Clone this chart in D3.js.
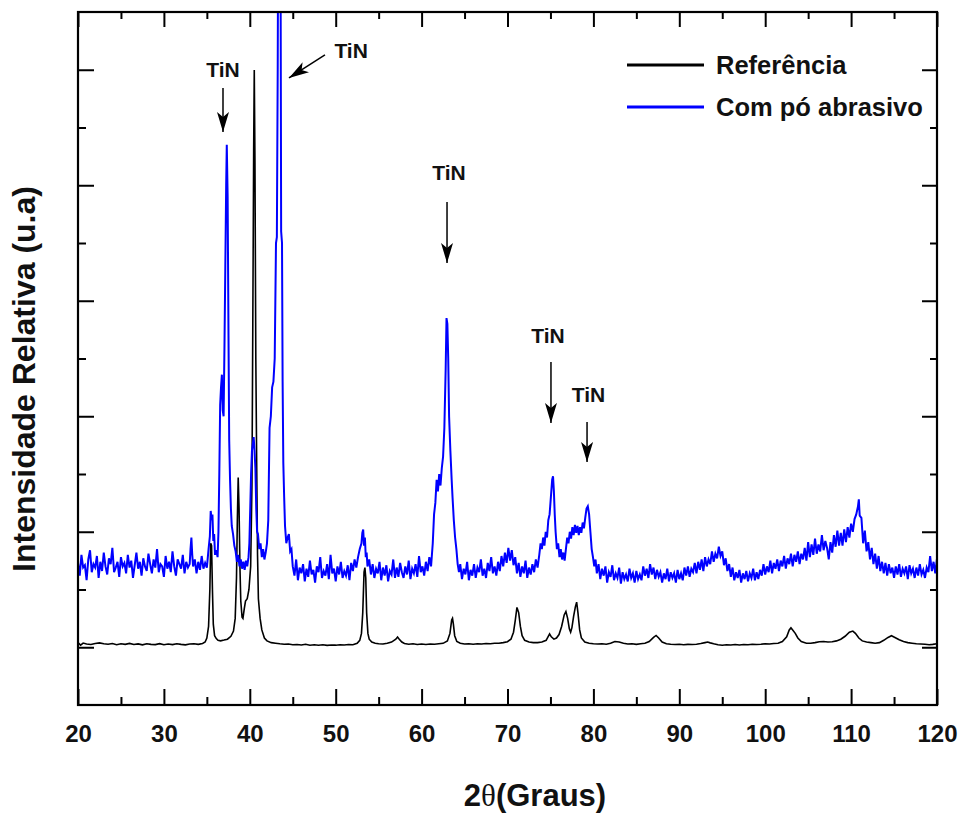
<!DOCTYPE html>
<html>
<head>
<meta charset="utf-8">
<script src="https://cdn.jsdelivr.net/npm/d3@7"></script>
<style>
body { margin: 0; background: #fff; }
text { font-family: "Liberation Sans", Arial, sans-serif; font-weight: bold; fill: #111; }
</style>
</head>
<body>
<svg id="chart" width="961" height="815"></svg>
<script>
// 2theta (graus) vs intensidade (u.a)
var refPoints = [
  [20.0,1040],[20.3,1018],[20.6,1036],[21.0,1028],[21.5,1024],[22.0,1032],[22.5,1038],[23.0,1030],[23.5,1026],
  [24.0,1032],[24.5,1022],[25.0,1030],[25.5,1025],[26.0,1033],[26.5,1024],[27.0,1029],[27.5,1021],[28.0,1030],
  [28.5,1025],[29.0,1023],[29.5,1031],[30.0,1022],[30.5,1028],[31.0,1023],[31.5,1030],[32.0,1025],[32.5,1021],
  [33.0,1028],[33.5,1030],[34.0,1025],[34.5,1033],[34.8,1045],[35.0,1080],[35.2,1180],[35.35,1500],[35.45,1900],
  [35.55,1880],[35.65,1500],[35.75,1200],[35.9,1100],[36.1,1075],[36.3,1060],[36.6,1055],[37.0,1062],[37.4,1070],
  [37.8,1095],[38.1,1140],[38.3,1250],[38.45,1600],[38.55,2100],[38.65,2470],[38.75,2200],[38.85,1700],[38.95,1400],
  [39.1,1260],[39.2,1250],[39.35,1330],[39.5,1400],[39.7,1420],[39.9,1500],[40.1,1700],[40.25,2400],[40.35,3800],
  [40.45,5300],[40.52,5998],[40.6,5200],[40.7,3500],[40.8,2600],[40.9,1800],[41.0,1420],[41.2,1250],[41.4,1150],
  [41.7,1080],[42.0,1055],[42.5,1040],[43.0,1035],[43.5,1030],[44.0,1026],[44.5,1028],[45.0,1022],[45.5,1024],
  [46.0,1020],[46.5,1026],[47.0,1018],[47.5,1022],[48.0,1018],[48.5,1022],[49.0,1016],[49.5,1020],[50.0,1018],
  [50.5,1022],[51.0,1020],[51.5,1024],[52.0,1022],[52.5,1035],[52.8,1060],[53.0,1120],[53.15,1300],[53.3,1650],
  [53.4,1690],[53.5,1600],[53.6,1300],[53.75,1120],[53.9,1070],[54.2,1045],[54.6,1035],[55.0,1030],[55.5,1028],
  [56.0,1035],[56.5,1045],[57.0,1070],[57.2,1088],[57.4,1070],[57.7,1045],[58.0,1032],[58.5,1026],[59.0,1030],
  [59.5,1024],[60.0,1028],[60.5,1024],[61.0,1028],[61.5,1026],[62.0,1030],[62.5,1034],[63.0,1055],[63.3,1120],
  [63.5,1235],[63.6,1250],[63.7,1200],[63.85,1100],[64.1,1050],[64.5,1035],[65.0,1028],[65.5,1030],[66.0,1026],
  [66.5,1030],[67.0,1028],[67.5,1032],[68.0,1030],[68.5,1035],[69.0,1034],[69.5,1040],[70.0,1048],[70.4,1070],
  [70.7,1130],[70.9,1230],[71.1,1345],[71.3,1300],[71.5,1180],[71.7,1100],[72.0,1060],[72.5,1045],[73.0,1040],
  [73.5,1040],[74.0,1045],[74.5,1060],[74.9,1115],[75.1,1090],[75.4,1070],[75.7,1080],[76.0,1110],[76.3,1180],
  [76.6,1280],[76.8,1310],[77.0,1250],[77.2,1160],[77.35,1130],[77.5,1170],[77.7,1270],[77.9,1350],[78.05,1390],
  [78.2,1300],[78.4,1150],[78.6,1080],[79.0,1045],[79.5,1035],[80.0,1030],[80.5,1028],[81.0,1030],[81.5,1026],
  [82.0,1035],[82.5,1050],[83.0,1045],[83.5,1035],[84.0,1028],[84.5,1030],[85.0,1025],[85.5,1030],[86.0,1035],
  [86.5,1050],[87.0,1085],[87.3,1102],[87.6,1080],[88.0,1045],[88.5,1030],[89.0,1026],[89.5,1024],[90.0,1026],
  [90.5,1022],[91.0,1025],[91.5,1024],[92.0,1026],[92.5,1032],[93.0,1040],[93.3,1045],[93.6,1038],[94.0,1030],
  [94.5,1022],[95.0,1018],[95.5,1022],[96.0,1020],[96.5,1024],[97.0,1020],[97.5,1024],[98.0,1022],[98.5,1026],
  [99.0,1024],[99.5,1026],[100.0,1030],[100.5,1028],[101.0,1032],[101.5,1035],[102.0,1050],[102.5,1090],
  [102.8,1150],[103.0,1168],[103.2,1150],[103.5,1120],[103.8,1080],[104.2,1050],[104.8,1035],[105.3,1035],
  [105.8,1040],[106.3,1048],[106.8,1050],[107.3,1045],[107.8,1048],[108.3,1055],[108.8,1070],[109.3,1095],
  [109.8,1130],[110.2,1140],[110.5,1120],[110.9,1080],[111.3,1055],[111.8,1045],[112.3,1040],[112.8,1035],
  [113.3,1040],[113.8,1060],[114.3,1085],[114.7,1100],[115.1,1085],[115.6,1065],[116.1,1050],[116.6,1040],
  [117.1,1035],[117.6,1030],[118.1,1028],[118.6,1026],[119.1,1022],[119.5,1025],[120.0,1030]
];

var abrasivePoints = [
  [20.0,1730],[20.2,1620],[20.4,1800],[20.6,1690],[20.8,1710],[21.0,1580],[21.2,1760],[21.4,1840],[21.6,1650],
  [21.8,1720],[22.0,1690],[22.2,1790],[22.4,1600],[22.6,1740],[22.8,1660],[23.0,1820],[23.2,1700],[23.4,1630],
  [23.6,1770],[23.8,1720],[24.0,1860],[24.2,1650],[24.4,1690],[24.6,1740],[24.8,1610],[25.0,1780],[25.2,1700],
  [25.4,1730],[25.6,1640],[25.8,1800],[26.0,1690],[26.2,1750],[26.4,1600],[26.6,1710],[26.8,1820],[27.0,1680],
  [27.2,1740],[27.4,1620],[27.6,1770],[27.8,1700],[28.0,1660],[28.2,1810],[28.4,1720],[28.6,1640],[28.8,1760],
  [29.0,1690],[29.2,1850],[29.4,1650],[29.6,1720],[29.8,1700],[30.0,1610],[30.2,1790],[30.4,1680],[30.6,1740],
  [30.8,1650],[31.0,1830],[31.2,1700],[31.4,1620],[31.6,1760],[31.8,1720],[32.0,1680],[32.2,1800],[32.4,1640],
  [32.6,1740],[32.8,1690],[33.0,1720],[33.1,1850],[33.2,1950],[33.3,1800],[33.4,1700],[33.6,1760],[33.8,1640],
  [34.0,1740],[34.2,1670],[34.4,1790],[34.6,1680],[34.8,1730],[35.0,1690],[35.2,1850],[35.35,1960],[35.45,2180],
  [35.55,2100],[35.65,2150],[35.75,1920],[35.85,1980],[35.95,1800],[36.1,1840],[36.25,1780],[36.35,2000],
  [36.45,2500],[36.55,3100],[36.65,3250],[36.75,3360],[36.85,3050],[36.95,3000],[37.05,3600],[37.15,4300],
  [37.25,5000],[37.32,5350],[37.42,4900],[37.52,3700],[37.6,2800],[37.7,2450],[37.8,2200],[37.9,2050],
  [38.05,1980],[38.2,1880],[38.35,1830],[38.5,1740],[38.65,1800],[38.8,1700],[38.95,1760],[39.1,1680],
  [39.25,1740],[39.4,1670],[39.55,1750],[39.7,1700],[39.85,1780],[39.95,1900],[40.05,2200],[40.15,2500],
  [40.25,2700],[40.35,2760],[40.45,2820],[40.55,2700],[40.65,2550],[40.75,2200],[40.85,2000],[40.95,1980],
  [41.1,1850],[41.25,1900],[41.4,1780],[41.55,1850],[41.7,1760],[41.85,1820],[42.0,1900],[42.15,2100],
  [42.3,2900],[42.45,3000],[42.6,3250],[42.75,3300],[42.9,3500],[43.05,4500],[43.15,4550],[43.25,6000],
  [43.35,8500],[43.45,9000],[43.55,8000],[43.65,4600],[43.75,4500],[43.82,3300],[43.9,2600],[44.0,2300],
  [44.1,2050],[44.25,1900],[44.4,1950],[44.55,1980],[44.7,1830],[44.85,1850],[45.0,1700],[45.2,1620],
  [45.4,1760],[45.6,1580],[45.8,1690],[46.0,1640],[46.2,1720],[46.4,1570],[46.6,1680],[46.8,1610],[47.0,1750],
  [47.2,1630],[47.4,1670],[47.6,1560],[47.8,1700],[48.0,1650],[48.2,1780],[48.4,1600],[48.6,1660],[48.8,1620],
  [49.0,1720],[49.2,1590],[49.4,1800],[49.6,1640],[49.8,1680],[50.0,1570],[50.2,1700],[50.4,1630],[50.6,1740],
  [50.8,1600],[51.0,1660],[51.2,1620],[51.4,1710],[51.6,1580],[51.8,1730],[52.0,1660],[52.2,1760],[52.4,1690],
  [52.6,1780],[52.8,1850],[53.0,1900],[53.1,1990],[53.2,2020],[53.3,1880],[53.4,1950],[53.5,1780],[53.6,1820],
  [53.7,1700],[53.9,1760],[54.1,1630],[54.3,1720],[54.5,1600],[54.7,1680],[54.9,1640],[55.1,1740],[55.3,1580],
  [55.5,1690],[55.7,1620],[55.9,1710],[56.1,1570],[56.3,1660],[56.5,1630],[56.7,1760],[56.9,1600],[57.1,1690],
  [57.3,1610],[57.5,1730],[57.7,1650],[57.9,1600],[58.1,1700],[58.3,1630],[58.5,1750],[58.7,1590],[58.9,1680],
  [59.1,1640],[59.3,1720],[59.5,1610],[59.7,1790],[59.9,1650],[60.1,1700],[60.3,1620],[60.5,1740],[60.7,1660],
  [60.9,1780],[61.1,1700],[61.3,1900],[61.45,2150],[61.6,2250],[61.75,2450],[61.9,2350],[62.05,2500],
  [62.2,2400],[62.35,2550],[62.5,2650],[62.65,2900],[62.8,3400],[62.9,3850],[63.0,3800],[63.1,3500],
  [63.2,3000],[63.35,2700],[63.5,2450],[63.6,2300],[63.75,2100],[63.9,1950],[64.05,1850],[64.2,1720],
  [64.35,1650],[64.5,1720],[64.7,1590],[64.9,1680],[65.1,1630],[65.3,1740],[65.5,1580],[65.7,1670],[65.9,1620],
  [66.1,1720],[66.3,1600],[66.5,1690],[66.7,1650],[66.9,1760],[67.1,1620],[67.3,1680],[67.5,1600],[67.7,1730],
  [67.9,1660],[68.1,1780],[68.3,1640],[68.5,1700],[68.7,1620],[68.9,1740],[69.1,1660],[69.3,1790],[69.5,1700],
  [69.7,1820],[69.9,1730],[70.1,1860],[70.3,1750],[70.5,1840],[70.7,1710],[70.9,1780],[71.1,1640],[71.3,1730],
  [71.5,1610],[71.7,1700],[71.9,1640],[72.1,1750],[72.3,1600],[72.5,1690],[72.7,1630],[72.9,1720],[73.1,1650],
  [73.3,1760],[73.5,1690],[73.7,1800],[73.85,1900],[74.0,1850],[74.15,1950],[74.3,1880],[74.45,2000],
  [74.6,1950],[74.75,2100],[74.9,2150],[75.05,2300],[75.2,2450],[75.3,2480],[75.4,2350],[75.5,2150],
  [75.6,2000],[75.75,1850],[75.9,1900],[76.05,1780],[76.2,1850],[76.35,1760],[76.5,1820],[76.65,1750],
  [76.8,1850],[76.95,1950],[77.1,1900],[77.25,2000],[77.4,1940],[77.55,2040],[77.7,1970],[77.85,2060],
  [78.0,1990],[78.15,2050],[78.3,1970],[78.45,2040],[78.6,1990],[78.75,2080],[78.9,2030],[79.05,2120],
  [79.2,2200],[79.35,2220],[79.5,2150],[79.65,2000],[79.8,1850],[79.95,1780],[80.1,1700],[80.25,1760],
  [80.4,1640],[80.6,1720],[80.8,1590],[81.0,1680],[81.2,1620],[81.4,1700],[81.6,1560],[81.8,1650],[82.0,1610],
  [82.2,1710],[82.4,1580],[82.6,1640],[82.8,1600],[83.0,1690],[83.2,1550],[83.4,1650],[83.6,1590],[83.8,1630],
  [84.0,1570],[84.2,1680],[84.4,1600],[84.6,1640],[84.8,1560],[85.0,1660],[85.2,1590],[85.4,1630],[85.6,1580],
  [85.8,1700],[86.0,1620],[86.2,1680],[86.4,1600],[86.6,1720],[86.8,1630],[87.0,1690],[87.2,1590],[87.4,1670],
  [87.6,1610],[87.8,1650],[88.0,1560],[88.2,1640],[88.4,1590],[88.6,1680],[88.8,1570],[89.0,1650],[89.2,1600],
  [89.4,1640],[89.6,1560],[89.8,1670],[90.0,1590],[90.2,1640],[90.4,1580],[90.6,1690],[90.8,1620],[91.0,1700],
  [91.2,1610],[91.4,1680],[91.6,1650],[91.8,1730],[92.0,1640],[92.2,1740],[92.4,1670],[92.6,1760],[92.8,1660],
  [93.0,1780],[93.2,1700],[93.4,1760],[93.6,1720],[93.8,1830],[94.0,1740],[94.2,1810],[94.4,1770],[94.6,1870],
  [94.8,1790],[95.0,1830],[95.2,1710],[95.4,1770],[95.6,1660],[95.8,1720],[96.0,1610],[96.2,1690],[96.4,1580],
  [96.6,1650],[96.8,1600],[97.0,1670],[97.2,1560],[97.4,1640],[97.6,1590],[97.8,1660],[98.0,1570],[98.2,1640],
  [98.4,1600],[98.6,1680],[98.8,1580],[99.0,1650],[99.2,1590],[99.4,1670],[99.6,1620],[99.8,1720],[100.0,1630],
  [100.2,1700],[100.4,1650],[100.6,1750],[100.8,1640],[101.0,1730],[101.2,1680],[101.4,1760],[101.6,1660],
  [101.8,1750],[102.0,1700],[102.2,1790],[102.4,1680],[102.6,1770],[102.8,1720],[103.0,1810],[103.2,1700],
  [103.4,1800],[103.6,1740],[103.8,1830],[104.0,1720],[104.2,1810],[104.4,1760],[104.6,1860],[104.8,1750],
  [105.0,1910],[105.2,1780],[105.4,1890],[105.6,1800],[105.8,1940],[106.0,1810],[106.2,1890],[106.4,1830],
  [106.6,1970],[106.8,1840],[107.0,1920],[107.2,1860],[107.4,1760],[107.6,1910],[107.8,1820],[108.0,1970],
  [108.2,1870],[108.4,2010],[108.6,1880],[108.8,1990],[109.0,1880],[109.2,2020],[109.4,1910],[109.6,2040],
  [109.8,1950],[110.0,2070],[110.2,2000],[110.4,2110],[110.6,2150],[110.8,2220],[110.9,2280],[111.0,2140],
  [111.2,2120],[111.4,1900],[111.6,2010],[111.8,1830],[112.0,1910],[112.2,1760],[112.4,1860],[112.6,1720],
  [112.8,1810],[113.0,1680],[113.2,1790],[113.4,1660],[113.6,1740],[113.8,1640],[114.0,1730],[114.2,1620],
  [114.4,1720],[114.6,1640],[114.8,1690],[115.0,1600],[115.2,1700],[115.4,1630],[115.6,1720],[115.8,1610],
  [116.0,1680],[116.2,1640],[116.4,1700],[116.6,1590],[116.8,1710],[117.0,1640],[117.2,1680],[117.4,1600],
  [117.6,1690],[117.8,1620],[118.0,1720],[118.2,1630],[118.4,1670],[118.6,1600],[118.8,1690],[119.0,1650],
  [119.2,1790],[119.4,1660],[119.6,1740],[119.8,1640],[120.0,1770]
];

var seriesNames = ["Referência", "Com pó abrasivo"];
var seriesColors = ["#000000", "#0000ff"];

var xMajorTicks = [20, 30, 40, 50, 60, 70, 80, 90, 100, 110, 120];
var xMinorTicks = [25, 35, 45, 55, 65, 75, 85, 95, 105, 115];
var yMajorTicks = [1000, 2000, 3000, 4000, 5000, 6000];
var yMinorTicks = [1500, 2500, 3500, 4500, 5500];

// TiN peak markers: label position and arrow (x in graus, y in u.a)
var tinMarks = [
  {tx: 36.88, ty: 5937, x1: 36.88, y1: 5842, x2: 36.88, y2: 5461},
  {tx: 51.8,  ty: 6102, x1: 48.75, y1: 6128, x2: 44.56, y2: 5929},
  {tx: 63.19, ty: 5046, x1: 62.96, y1: 4855, x2: 62.96, y2: 4327},
  {tx: 74.71, ty: 3634, x1: 75.06, y1: 3470, x2: 75.06, y2: 2942},
  {tx: 79.43, ty: 3123, x1: 79.26, y1: 2950, x2: 79.26, y2: 2604}
];

var margin = {top: 12, right: 24, bottom: 110, left: 78};
var width = 961 - margin.left - margin.right;
var height = 815 - margin.top - margin.bottom;

var svg = d3.select("#chart");
var g = svg.append("g").attr("transform", "translate(" + margin.left + "," + margin.top + ")");

var x = d3.scaleLinear().domain([20, 120]).range([0, width]);
var y = d3.scaleLinear().domain([500, 6500]).range([height, 0]);

svg.append("defs").append("clipPath").attr("id", "plot-clip")
    .append("rect").attr("width", width).attr("height", height);

svg.select("defs").append("marker")
    .attr("id", "arrow-head")
    .attr("markerUnits", "userSpaceOnUse")
    .attr("viewBox", "0 0 20 12")
    .attr("refX", 20).attr("refY", 6)
    .attr("markerWidth", 20).attr("markerHeight", 12)
    .attr("orient", "auto")
    .append("path").attr("d", "M0,0 L20,6 L0,12 L5,6 Z").attr("fill", "#000");

var line = d3.line()
    .x(function (d) { return x(d[0]); })
    .y(function (d) { return y(d[1]); });

var plot = g.append("g").attr("clip-path", "url(#plot-clip)");

plot.append("path")
    .datum(refPoints)
    .attr("d", line)
    .attr("fill", "none")
    .attr("stroke", seriesColors[0])
    .attr("stroke-width", 1.6);

plot.append("path")
    .datum(abrasivePoints)
    .attr("d", line)
    .attr("fill", "none")
    .attr("stroke", seriesColors[1])
    .attr("stroke-width", 2);

// axes, ticks pointing inward
function styleAxis(sel) {
    sel.select(".domain").remove();
    sel.selectAll(".tick line").attr("stroke", "#000").attr("stroke-width", 2);
}

g.append("g").attr("transform", "translate(0," + height + ")")
    .call(d3.axisBottom(x).tickValues(xMajorTicks).tickSizeInner(-16).tickSizeOuter(0).tickPadding(20))
    .call(styleAxis)
    .selectAll("text")
    .attr("font-size", "24px")
    .attr("fill", "#111")
    .style("font-family", "'Liberation Sans', Arial, sans-serif")
    .style("font-weight", "bold");

g.append("g").attr("transform", "translate(0," + height + ")")
    .call(d3.axisBottom(x).tickValues(xMinorTicks).tickSizeInner(-8).tickSizeOuter(0).tickFormat(""))
    .call(styleAxis);

g.append("g")
    .call(d3.axisTop(x).tickValues(xMajorTicks).tickSizeInner(-15).tickSizeOuter(0).tickFormat(""))
    .call(styleAxis);
g.append("g")
    .call(d3.axisTop(x).tickValues(xMinorTicks).tickSizeInner(-7).tickSizeOuter(0).tickFormat(""))
    .call(styleAxis);

g.append("g")
    .call(d3.axisLeft(y).tickValues(yMajorTicks).tickSizeInner(-16).tickSizeOuter(0).tickFormat(""))
    .call(styleAxis);
g.append("g")
    .call(d3.axisLeft(y).tickValues(yMinorTicks).tickSizeInner(-8).tickSizeOuter(0).tickFormat(""))
    .call(styleAxis);

g.append("g").attr("transform", "translate(" + width + ",0)")
    .call(d3.axisRight(y).tickValues(yMajorTicks).tickSizeInner(-15).tickSizeOuter(0).tickFormat(""))
    .call(styleAxis);
g.append("g").attr("transform", "translate(" + width + ",0)")
    .call(d3.axisRight(y).tickValues(yMinorTicks).tickSizeInner(-7).tickSizeOuter(0).tickFormat(""))
    .call(styleAxis);

g.append("rect")
    .attr("width", width).attr("height", height)
    .attr("fill", "none").attr("stroke", "#000").attr("stroke-width", 2.2);

// TiN annotations
var marks = g.append("g");
marks.selectAll(".tin-label").data(tinMarks).enter().append("text")
    .attr("class", "tin-label")
    .attr("x", function (d) { return x(d.tx); })
    .attr("y", function (d) { return y(d.ty); })
    .attr("text-anchor", "middle")
    .attr("font-size", "21px")
    .text("TiN");

marks.selectAll(".tin-arrow").data(tinMarks).enter().append("line")
    .attr("class", "tin-arrow")
    .attr("x1", function (d) { return x(d.x1); })
    .attr("y1", function (d) { return y(d.y1); })
    .attr("x2", function (d) { return x(d.x2); })
    .attr("y2", function (d) { return y(d.y2); })
    .attr("stroke", "#000")
    .attr("stroke-width", 1.5)
    .attr("marker-end", "url(#arrow-head)");

// legend
var legend = svg.append("g").attr("transform", "translate(627,65)");
var legendRows = legend.selectAll("g").data(seriesNames).enter().append("g")
    .attr("transform", function (d, i) { return "translate(0," + (i * 42) + ")"; });
legendRows.append("line")
    .attr("x1", 0).attr("x2", 77).attr("y1", 0).attr("y2", 0)
    .attr("stroke", function (d, i) { return seriesColors[i]; })
    .attr("stroke-width", 3);
legendRows.append("text")
    .attr("x", 89).attr("y", 9)
    .attr("font-size", "25.5px")
    .text(function (d) { return d; });

// axis titles
var xTitle = svg.append("text")
    .attr("x", 535)
    .attr("y", 806)
    .attr("text-anchor", "middle")
    .attr("font-size", "31px");
xTitle.append("tspan").text("2");
xTitle.append("tspan").style("font-family", "'Liberation Serif', serif").style("font-weight", "normal").text("θ");
xTitle.append("tspan").text("(Graus)");

svg.append("text")
    .attr("transform", "translate(35," + 379 + ") rotate(-90)")
    .attr("text-anchor", "middle")
    .attr("font-size", "32px")
    .text("Intensidade Relativa (u.a)");
</script>
</body>
</html>
